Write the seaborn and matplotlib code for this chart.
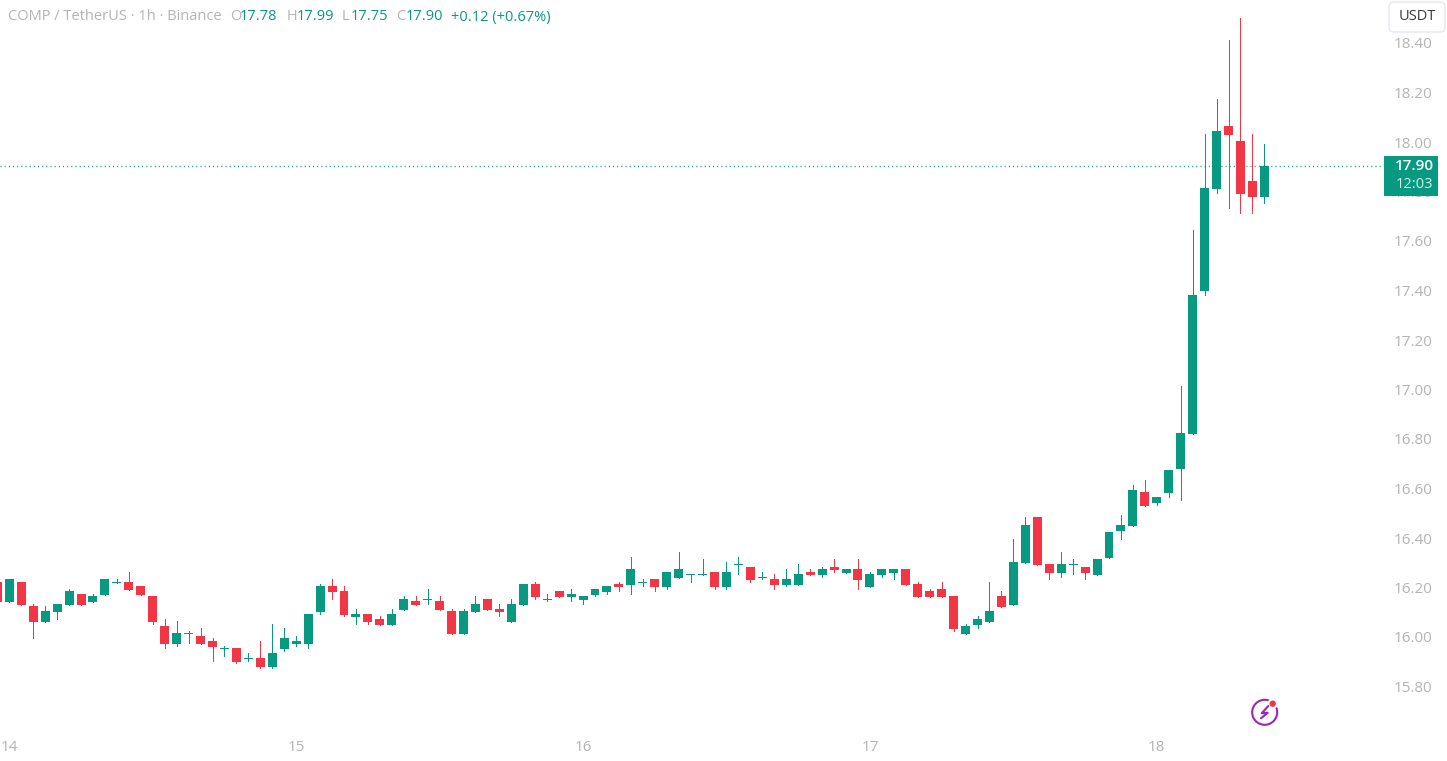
import numpy as np
import pandas as pd
import seaborn as sns
import matplotlib
matplotlib.use("Agg")
import matplotlib.pyplot as plt
from matplotlib.patches import Rectangle, FancyBboxPatch, Circle, PathPatch
from matplotlib.path import Path
from matplotlib.lines import Line2D
from matplotlib.transforms import Affine2D, IdentityTransform

opens = [16.222,16.141,16.222,16.125,16.061,16.101,16.129,16.174,16.141,16.170,16.218,16.222,16.206,16.166,16.044,15.972,16.012,16.004,15.984,15.952,
         15.956,15.911,15.915,15.879,15.952,15.972,15.972,16.101,16.206,16.186,16.081,16.093,16.073,16.048,16.109,16.145,16.149,16.145,16.105,16.012,
         16.101,16.154,16.113,16.061,16.129,16.214,16.149,16.186,16.162,16.149,16.170,16.182,16.214,16.210,16.218,16.234,16.202,16.238,16.251,16.251,
         16.263,16.202,16.291,16.283,16.238,16.234,16.210,16.210,16.263,16.251,16.283,16.259,16.275,16.202,16.251,16.259,16.275,16.214,16.186,16.194,
         16.166,16.012,16.048,16.061,16.166,16.129,16.299,16.485,16.295,16.259,16.291,16.283,16.251,16.319,16.428,16.448,16.586,16.541,16.582,16.679,
         16.820,17.398,17.810,18.065,18.004,17.842,17.778]
highs = [16.222,16.234,16.222,16.133,16.125,16.133,16.194,16.174,16.174,16.234,16.234,16.263,16.206,16.166,16.073,16.065,16.024,16.036,15.996,15.964,
         15.956,15.935,15.984,16.053,16.036,16.004,16.093,16.214,16.234,16.206,16.113,16.093,16.085,16.113,16.166,16.166,16.194,16.166,16.113,16.113,
         16.166,16.154,16.133,16.154,16.214,16.222,16.174,16.186,16.194,16.166,16.194,16.206,16.222,16.323,16.234,16.234,16.263,16.343,16.255,16.315,
         16.263,16.303,16.323,16.283,16.263,16.255,16.275,16.295,16.275,16.283,16.315,16.275,16.315,16.263,16.275,16.275,16.275,16.222,16.194,16.222,
         16.166,16.053,16.085,16.222,16.186,16.396,16.485,16.485,16.295,16.343,16.315,16.283,16.315,16.424,16.493,16.614,16.634,16.566,16.675,17.014,
         17.644,18.032,18.174,18.412,18.501,18.032,17.992]
lows = [16.141,16.141,16.129,15.996,16.061,16.073,16.129,16.129,16.141,16.170,16.218,16.190,16.170,16.053,15.956,15.964,15.976,15.972,15.903,15.923,
        15.895,15.903,15.875,15.875,15.943,15.964,15.956,16.093,16.154,16.085,16.053,16.053,16.048,16.048,16.109,16.129,16.133,16.109,16.012,16.012,
        16.101,16.109,16.085,16.061,16.129,16.154,16.145,16.162,16.145,16.133,16.166,16.174,16.186,16.174,16.206,16.186,16.194,16.238,16.222,16.251,
        16.194,16.194,16.255,16.222,16.234,16.194,16.206,16.210,16.251,16.242,16.263,16.259,16.194,16.202,16.242,16.234,16.210,16.162,16.162,16.162,
        16.024,16.012,16.036,16.061,16.121,16.129,16.299,16.291,16.234,16.242,16.255,16.234,16.251,16.319,16.396,16.448,16.529,16.533,16.566,16.554,
        16.820,17.382,17.794,17.733,17.713,17.713,17.754]
closes = [16.141,16.234,16.129,16.061,16.105,16.133,16.186,16.129,16.166,16.234,16.222,16.190,16.170,16.061,15.972,16.016,16.016,15.972,15.960,15.956,
          15.899,15.915,15.879,15.935,15.996,15.984,16.093,16.206,16.182,16.089,16.093,16.061,16.048,16.093,16.154,16.129,16.154,16.109,16.012,16.105,
          16.133,16.109,16.101,16.133,16.214,16.162,16.154,16.162,16.174,16.166,16.194,16.206,16.202,16.275,16.222,16.202,16.263,16.275,16.255,16.255,
          16.202,16.263,16.295,16.230,16.242,16.210,16.234,16.255,16.251,16.275,16.271,16.275,16.230,16.255,16.275,16.275,16.210,16.162,16.162,16.162,
          16.032,16.044,16.073,16.105,16.121,16.303,16.453,16.291,16.259,16.295,16.295,16.259,16.315,16.424,16.453,16.594,16.529,16.566,16.675,16.824,
          17.382,17.814,18.044,18.028,17.790,17.778,17.904]
price_ticks = [15.8,16.0,16.2,16.4,16.6,16.8,17.0,17.2,17.4,17.6,17.8,18.0,18.2,18.4]
day_labels = ["14","15","16","17","18"]
day_hours = [1,25,49,73,97]
last_price = 17.904

W, H = 1447, 761
GREEN, RED, GRAY = "#089981", "#f23645", "#b4b4b4"
FONT = "Open Sans"

sns.set_theme(style="white")
plt.rcParams["font.family"] = [FONT, "DejaVu Sans"]

df = pd.DataFrame({"open": opens, "high": highs, "low": lows, "close": closes})
df["hour"] = np.arange(len(df))
df["up"] = df["close"] >= df["open"]
df["color"] = np.where(df["up"], GREEN, RED)
df["bottom"] = df[["open", "close"]].min(axis=1)
df["height"] = (df["open"] - df["close"]).abs()

fig = plt.figure(figsize=(W / 100, H / 100), dpi=100, facecolor="white")
AX_R, AX_B = 1385, 735
ax = fig.add_axes([0, 1 - AX_B / H, AX_R / W, AX_B / H], facecolor="white")

ax.axhline(last_price, color=GREEN, lw=1.0, ls=(0, (0.75, 2.25)), zorder=1)
ax.vlines(df["hour"], df["low"], df["high"], colors=df["color"], lw=0.72, zorder=2, antialiased=False)
ax.bar(df["hour"], df["height"], bottom=df["bottom"], width=0.75, color=df["color"],
       linewidth=0, zorder=3, antialiased=False)

ax.set_xlim(0.222, 116.09)
ax.set_ylim(16 - (AX_B - 637) / 247.5, 16 + 637 / 247.5)
ax.yaxis.tick_right()
ax.set_yticks(price_ticks, [f"{t:.2f}" for t in price_ticks])
ax.set_xticks(day_hours, day_labels)
ax.tick_params(axis="both", length=0, colors=GRAY, labelsize=11)
ax.tick_params(axis="y", pad=6.5)
ax.tick_params(axis="x", pad=3.5)
sns.despine(ax=ax, left=True, right=True, top=True, bottom=True)

def px_text(x, y, s, color=GRAY, size=10.5, ha="left", weight="normal"):
    fig.text(x / W, 1 - y / H, s, color=color, fontsize=size, ha=ha, va="center",
             weight=weight, zorder=5)

# header
px_text(8, 17, "COMP / TetherUS · 1h · Binance")
for lx, vx, lab, val in [(230, 240, "O", "17.78"), (287, 297, "H", "17.99"),
                         (342, 351, "L", "17.75"), (396, 406, "C", "17.90")]:
    px_text(lx, 17, lab)
    px_text(vx, 17, val, color=GREEN)
px_text(451, 17, "+0.12 (+0.67%)", color=GREEN)

# price tag
fig.add_artist(Rectangle((1384 / W, 1 - 196 / H), 54 / W, 40 / H, transform=fig.transFigure,
                         facecolor=GREEN, edgecolor="none", zorder=4))
px_text(1414, 166, "17.90", color="white", ha="center", weight="semibold", size=11)
px_text(1414, 184, "12:03", color="#d5efea", ha="center", size=10.5)

# currency button
fig.add_artist(FancyBboxPatch((1389, H - 32), 56, 30, boxstyle="round,pad=0,rounding_size=5",
                              transform=IdentityTransform(), facecolor="white",
                              edgecolor="#e6e8ee", lw=1, zorder=4))
px_text(1417, 17, "USDT", color="#3a3a3a", ha="center", size=10.5)

# lightning badge
PURPLE = "#9c27b0"
ring = Affine2D().scale(12.5).translate(1264.7, H - 712.3)
fig.add_artist(PathPatch(Path.unit_circle(), transform=ring, facecolor="none",
                         edgecolor=PURPLE, lw=1.5, zorder=4))
fig.add_artist(Circle((1272.7, H - 703.7), 5.2, transform=IdentityTransform(),
                      facecolor="white", edgecolor="none", zorder=4.1))
fig.add_artist(Circle((1272.7, H - 703.7), 3.2, transform=IdentityTransform(),
                      facecolor=RED, edgecolor="none", zorder=4.2))
fig.add_artist(Line2D([1268.3, 1261.7, 1267.7, 1261], [H - 706, H - 713.3, H - 712.7, H - 718.3],
                      transform=IdentityTransform(), color=PURPLE, lw=1.5, zorder=4.2))

fig.savefig("out.png", dpi=100, facecolor="white")
